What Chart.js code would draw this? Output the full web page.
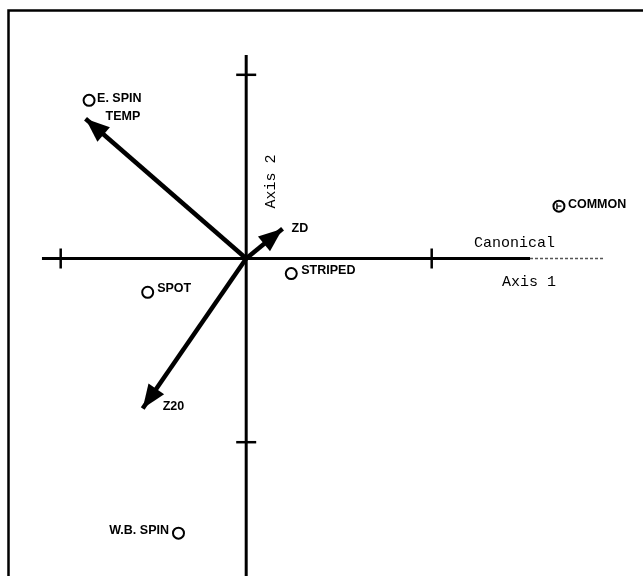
<!DOCTYPE html>
<html>
<head>
<meta charset="utf-8">
<style>
	html, body { margin: 0; padding: 0; background: #fff; }
	#wrap { position: relative; width: 643px; height: 576px; }
</style>
<script src="https://cdn.jsdelivr.net/npm/chart.js@4/dist/chart.umd.min.js"></script>
</head>
<body>
<div id="wrap"><canvas id="chart"></canvas></div>
<script>
// Species scores (canonical axis 1, axis 2)
const speciesNames = ['E. SPIN', 'COMMON', 'STRIPED', 'SPOT', 'W.B. SPIN'];
const speciesX = [-0.847, 1.686, 0.243, -0.531, -0.365];
const speciesY = [0.861, 0.285, -0.082, -0.184, -1.495];

// Environmental variable vectors (arrow tips, from origin)
const envNames = ['TEMP', 'ZD', 'Z20'];
const envX = [-0.866, 0.196, -0.558];
const envY = [0.761, 0.162, -0.817];

// Axis ticks and extents
const xTicks = [-1, 1];
const yTicks = [-1, 1];
const xAxisRange = [-1.101, 1.530, 1.926]; // start, end of solid, end of dashed
const yAxisRange = [-1.8, 1.108];

const ink = '#000';
const labelFont = 'bold 12.5px "Liberation Sans", Arial, sans-serif';

// label offsets in pixels, relative to the mark [dx, dy, align]
const speciesLabelPos = {
	'E. SPIN': [8, 2, 'left'],
	'COMMON': [9, 1.5, 'left'],
	'STRIPED': [10, 0, 'left'],
	'SPOT': [9.5, 0, 'left'],
	'W.B. SPIN': [-9.5, 1, 'right']
};
const envLabelPos = {
	'TEMP': [20, 1],
	'ZD': [9, 3],
	'Z20': [20, 1]
};

const line = (pts, opts) => Object.assign({
	type: 'line',
	data: pts,
	borderColor: ink,
	borderWidth: 3,
	pointRadius: 0,
	fill: false,
	tension: 0
}, opts);

const arrowSets = envNames.map((n, i) => line([{ x: 0, y: 0 }, { x: envX[i], y: envY[i] }], {
	label: n, borderWidth: 4.5, borderCapStyle: 'butt'
}));

const data = {
	datasets: [
		line([{ x: xAxisRange[0], y: 0 }, { x: xAxisRange[1], y: 0 }], { label: 'axis1' }),
		line([{ x: xAxisRange[1], y: 0 }, { x: xAxisRange[2], y: 0 }], { label: 'axis1dash', borderColor: '#555', borderWidth: 1.5, borderDash: [3, 2] }),
		line([{ x: 0, y: yAxisRange[0] }, { x: 0, y: yAxisRange[1] }], { label: 'axis2' }),
		...arrowSets,
		{
			type: 'scatter',
			label: 'species',
			data: speciesX.map((x, i) => ({ x: x, y: speciesY[i] })),
			pointStyle: 'circle',
			pointRadius: 5.5,
			pointBorderWidth: 2,
			pointBorderColor: ink,
			pointBackgroundColor: '#fff'
		}
	]
};

// Frame, ticks, arrowheads and text
const biplotPlugin = {
	id: 'biplot',
	beforeDraw(chart) {
		const ctx = chart.ctx;
		ctx.save();
		ctx.strokeStyle = ink;
		ctx.lineWidth = 2.5;
		ctx.beginPath();
		ctx.moveTo(643, 10.5);
		ctx.lineTo(8.5, 10.5);
		ctx.lineTo(8.5, 576);
		ctx.stroke();
		ctx.restore();
	},
	afterDatasetsDraw(chart) {
		const ctx = chart.ctx;
		const sx = chart.scales.x, sy = chart.scales.y;
		const ox = sx.getPixelForValue(0), oy = sy.getPixelForValue(0);
		ctx.save();
		ctx.strokeStyle = ink;
		ctx.fillStyle = ink;

		// ticks
		ctx.lineWidth = 2.5;
		xTicks.forEach(t => {
			const px = sx.getPixelForValue(t);
			ctx.beginPath();
			ctx.moveTo(px, oy - 10);
			ctx.lineTo(px, oy + 10);
			ctx.stroke();
		});
		yTicks.forEach(t => {
			const py = sy.getPixelForValue(t);
			ctx.beginPath();
			ctx.moveTo(ox - 10, py);
			ctx.lineTo(ox + 10, py);
			ctx.stroke();
		});

		// arrowheads
		ctx.font = labelFont;
		ctx.textAlign = 'left';
		ctx.textBaseline = 'alphabetic';
		envNames.forEach((n, i) => {
			const tx = sx.getPixelForValue(envX[i]);
			const ty = sy.getPixelForValue(envY[i]);
			const a = Math.atan2(ty - oy, tx - ox);
			const len = 24, half = 9.5;
			const bx = tx - len * Math.cos(a), by = ty - len * Math.sin(a);
			ctx.beginPath();
			ctx.moveTo(tx, ty);
			ctx.lineTo(bx + half * Math.sin(a), by - half * Math.cos(a));
			ctx.lineTo(bx - half * Math.sin(a), by + half * Math.cos(a));
			ctx.closePath();
			ctx.fill();

			const off = envLabelPos[n];
			ctx.fillText(n, tx + off[0], ty + off[1]);
		});

		// species labels
		const meta = chart.getDatasetMeta(chart.data.datasets.length - 1);
		speciesNames.forEach((n, i) => {
			const el = meta.data[i];
			const off = speciesLabelPos[n];
			ctx.textAlign = off[2];
			ctx.fillText(n, el.x + off[0], el.y + off[1]);
			if (n === 'COMMON') {
				ctx.lineWidth = 1.4;
				ctx.beginPath();
				ctx.moveTo(el.x - 2, el.y - 3);
				ctx.lineTo(el.x - 2, el.y + 3);
				ctx.moveTo(el.x - 2, el.y);
				ctx.lineTo(el.x + 2.5, el.y);
				ctx.stroke();
			}
		});

		// axis titles
		ctx.font = '15px "Liberation Mono", "DejaVu Sans Mono", monospace';
		ctx.textAlign = 'left';
		ctx.fillText('Canonical', 474, 246.5);
		ctx.fillText('Axis 1', 502, 286);
		ctx.translate(275, 181.5);
		ctx.rotate(-Math.PI / 2);
		ctx.textAlign = 'center';
		ctx.fillText('Axis 2', 0, 0);
		ctx.restore();
	}
};

const config = {
	type: 'scatter',
	data: data,
	options: {
		responsive: false,
		animation: false,
		clip: false,
		layout: { padding: 0, autoPadding: false },
		plugins: {
			legend: { display: false },
			tooltip: { enabled: false },
			title: { display: false }
		},
		scales: {
			x: { type: 'linear', display: false, min: -1.3272, max: 2.1391 },
			y: { type: 'linear', display: false, min: -1.7284, max: 1.4072 }
		}
	},
	plugins: [biplotPlugin]
};

const canvas = document.getElementById('chart');
canvas.width = 643;
canvas.height = 576;
new Chart(canvas, config);
</script>
</body>
</html>
